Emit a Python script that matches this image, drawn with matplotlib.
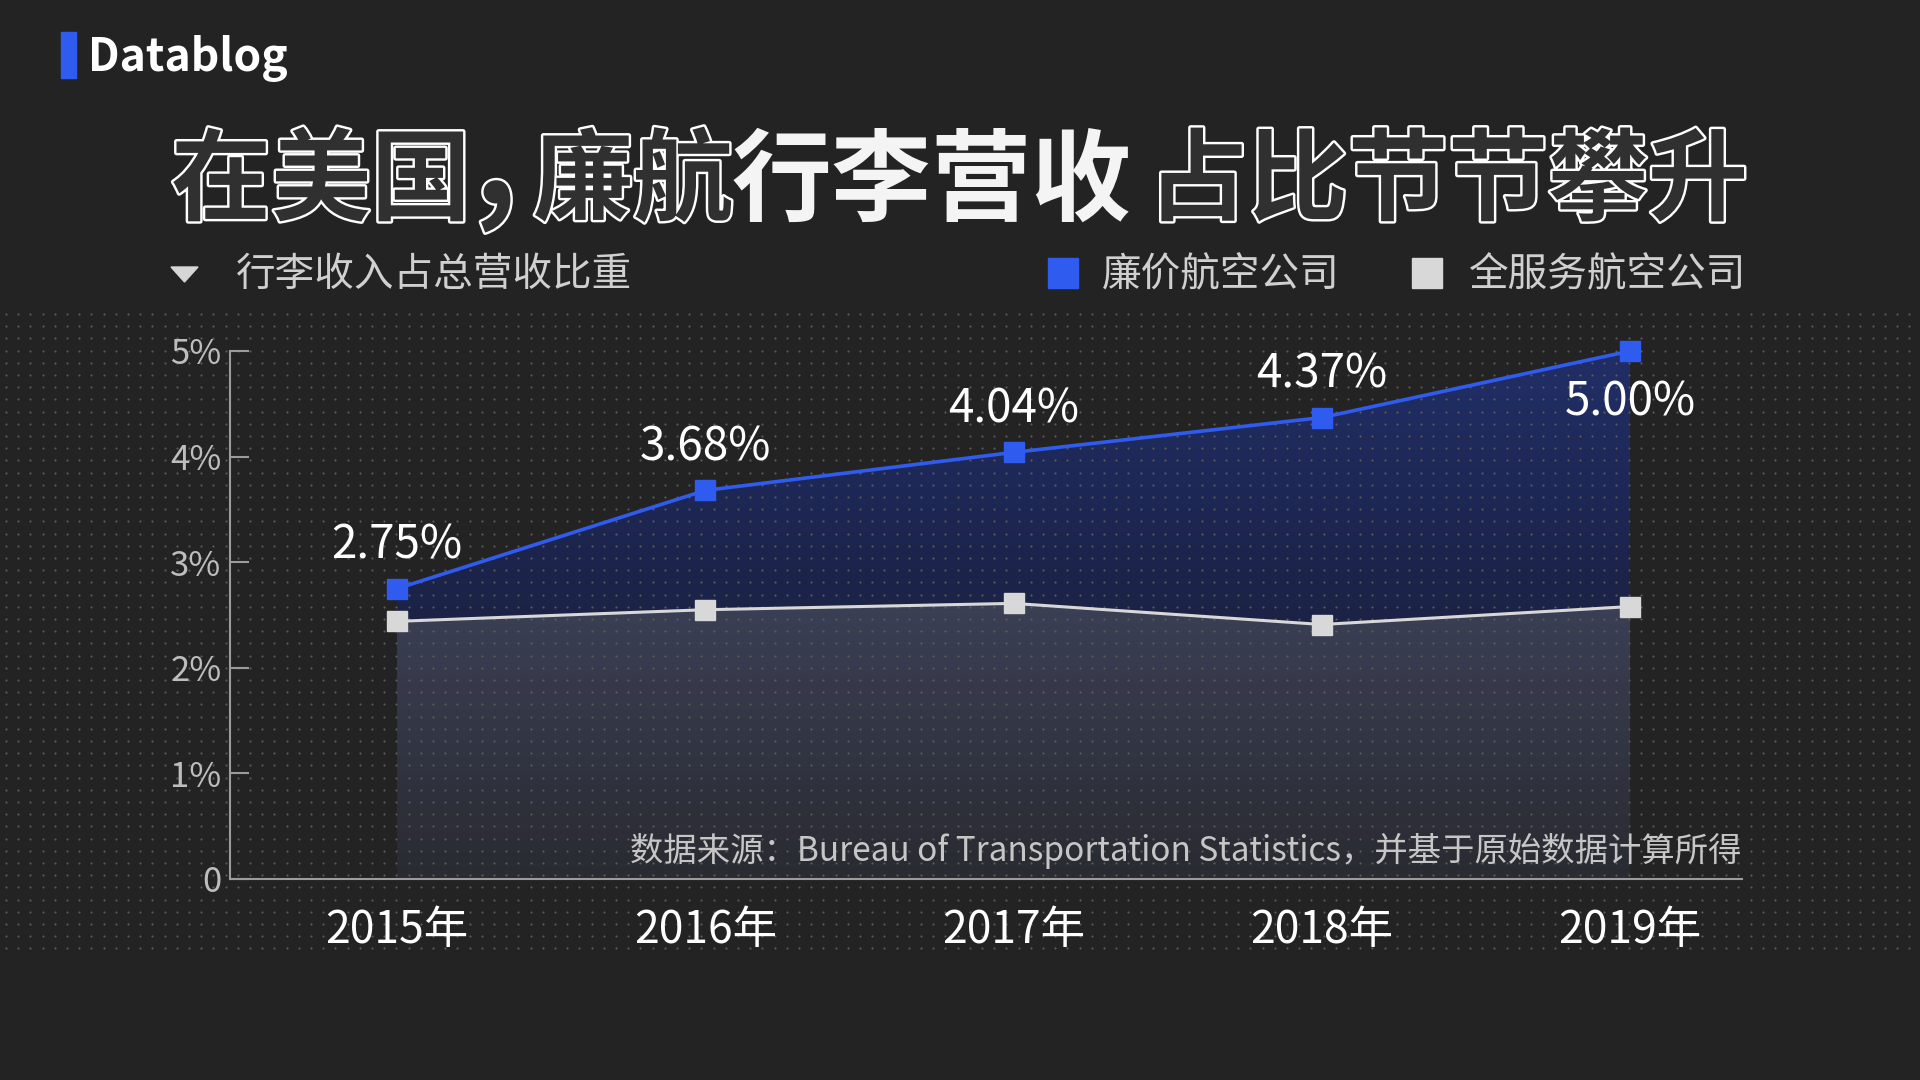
import numpy as np
import matplotlib
matplotlib.use("Agg")
import matplotlib.pyplot as plt
import matplotlib.patheffects as pe
from matplotlib.colors import LinearSegmentedColormap
from matplotlib.patches import Rectangle, Polygon

plt.rcParams['font.family'] = ['Noto Sans CJK SC', 'DejaVu Sans']

# data
years = ["2015年", "2016年", "2017年", "2018年", "2019年"]
low_cost = [2.75, 3.68, 4.04, 4.37, 5.00]
full_service = [2.44, 2.55, 2.61, 2.41, 2.58]
low_cost_labels = ["2.75%", "3.68%", "4.04%", "4.37%", "5.00%"]
y_ticks = [0, 1, 2, 3, 4, 5]
y_tick_labels = ["0", "1%", "2%", "3%", "4%", "5%"]
legend_names = ["廉价航空公司", "全服务航空公司"]

BG = "#232323"
BLUE = "#2f5bef"
GREY = "#d8d8d8"
AXIS = "#9c9c9c"

W, H = 1920, 1080
fig = plt.figure(figsize=(19.2, 10.8), dpi=100, facecolor=BG)


def fx(px):
    return px / W


def fy(py):
    return 1 - py / H


ax = fig.add_axes([fx(230), fy(879), fx(1742) - fx(230), fy(351) - fy(879)])
ax.set_facecolor("none")
x = np.arange(len(years))


def grad_fill(lower, upper, y0, y1, c_bot, c_top, z):
    poly = ax.fill_between(x, lower, upper, facecolor="none", edgecolor="none", zorder=z)
    cmap = LinearSegmentedColormap.from_list("g", [c_bot, c_top])
    grad = np.linspace(0, 1, 256).reshape(-1, 1)
    im = ax.imshow(grad, extent=[x[0], x[-1], y0, y1], origin="lower",
                   aspect="auto", cmap=cmap, zorder=z, alpha=0.92)
    im.set_clip_path(poly.get_paths()[0], transform=ax.transData)


grad_fill(0, full_service, 0, 2.65, "#2a2c33", "#3f435b", 1)
grad_fill(full_service, low_cost, 2.4, 5.0, "#1b2248", "#21306e", 1)

# dotted texture over the chart band
dx, dy = np.meshgrid(np.arange(6, W, 12.2), np.arange(314, 956, 12.2))
ax.scatter(fx(dx.ravel()), fy(dy.ravel()), s=2.4, c="#5c5c5c", linewidths=0,
           transform=fig.transFigure, clip_on=False, zorder=1.5)

ax.plot(x, full_service, color=GREY, lw=2.2, marker="s", ms=14, zorder=3, clip_on=False)
ax.plot(x, low_cost, color=BLUE, lw=2.6, marker="s", ms=14, zorder=4, clip_on=False)

for i, lab in enumerate(low_cost_labels):
    off = 31 if i < len(low_cost_labels) - 1 else -37
    ax.annotate(lab, (x[i], low_cost[i]), xytext=(0, off), textcoords="offset points",
                ha="center", va="center", fontsize=33, color="white", zorder=5)

ax.set_xlim(-0.542, 4.363)
ax.set_ylim(0, 5)
for s in ["top", "right"]:
    ax.spines[s].set_visible(False)
for s in ["left", "bottom"]:
    ax.spines[s].set_color(AXIS)
    ax.spines[s].set_linewidth(1.5)

ax.set_yticks(y_ticks, y_tick_labels)
ax.tick_params(axis="y", direction="in", length=14, width=1.5, color=AXIS,
               labelsize=25, labelcolor="#bdbdbd", pad=6)
for t in ax.get_yticklabels():
    t.set_fontweight("light")
ax.set_xticks(x, years)
ax.tick_params(axis="x", length=0, labelsize=32, labelcolor="white", pad=20)
for t in ax.get_xticklabels():
    t.set_fontweight("medium")

# header
fig.patches.append(Rectangle((fx(61), fy(78)), fx(76) - fx(61), fy(32) - fy(78),
                             transform=fig.transFigure, color=BLUE))
fig.text(fx(88), fy(59), "Datablog", fontsize=32, fontweight="bold", color="white",
         ha="left", va="center")

outline = [pe.withStroke(linewidth=3.5, foreground="white")]
title_parts = [
    ("在美国", 171, True),
    ("廉航", 533, True),
    ("行李营收", 732, False),
    ("占比节节攀升", 1148, True),
]
for txt, px, hollow in title_parts:
    if hollow:
        fig.text(fx(px), fy(183), txt, fontsize=72, fontweight="bold", color="#303030",
                 ha="left", va="center", path_effects=outline)
    else:
        fig.text(fx(px), fy(183), txt, fontsize=72, fontweight="heavy", color="#f4f4f4",
                 ha="left", va="center")
fig.text(fx(474), fy(204), ",", fontsize=96, fontweight="bold", color="#303030",
         ha="left", va="baseline", path_effects=outline)

fig.patches.append(Polygon([(fx(171), fy(267)), (fx(198), fy(267)), (fx(184.5), fy(282))],
                           closed=True, transform=fig.transFigure, color="#d6d6d6"))
fig.text(fx(235), fy(275), "行李收入占总营收比重", fontsize=28.5, color="#d0d0d0",
         ha="left", va="center")

for name, sq_x, tx, col in [(legend_names[0], 1048, 1102, BLUE), (legend_names[1], 1412, 1469, GREY)]:
    fig.patches.append(Rectangle((fx(sq_x), fy(288)), fx(30), fx(30) * W / H,
                                 transform=fig.transFigure, color=col))
    fig.text(fx(tx), fy(275), name, fontsize=28.5, color="#d0d0d0", ha="left", va="center")

fig.text(fx(1742), fy(851), "数据来源：Bureau of Transportation Statistics，并基于原始数据计算所得",
         fontsize=24, fontweight="light", color="#c6c6c6", ha="right", va="center", zorder=6)

fig.savefig("out.png", dpi=100, facecolor=BG)
